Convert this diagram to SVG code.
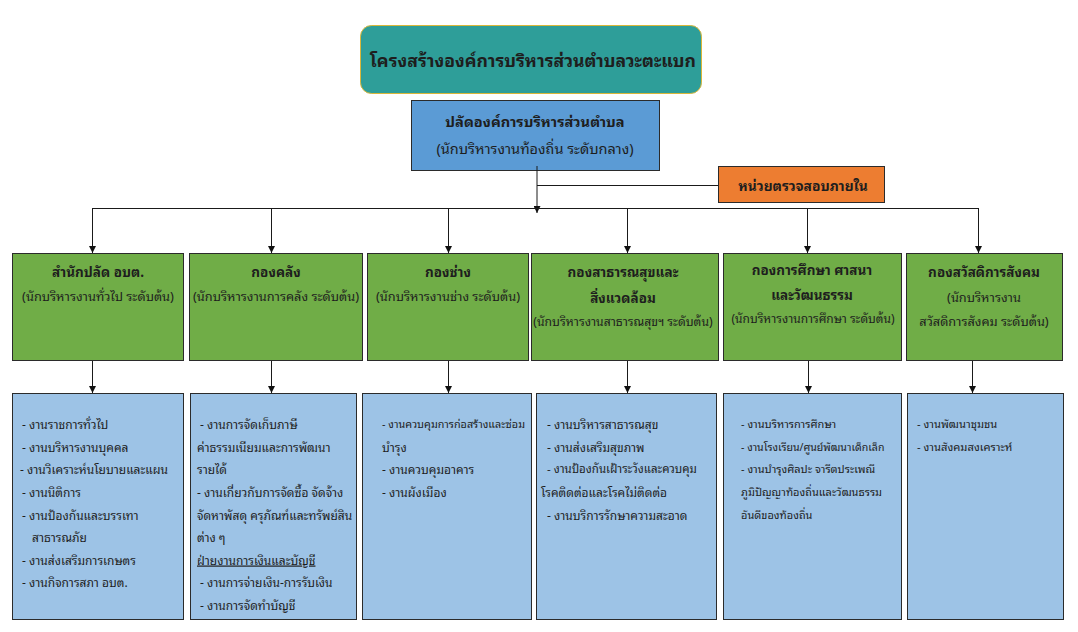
<svg xmlns="http://www.w3.org/2000/svg" width="1078" height="632" viewBox="0 0 1078 632">
<style>
text{font-family:"Noto Sans Thai Looped","Noto Sans Thai","Tahoma","Noto Sans","DejaVu Sans",sans-serif;fill:#1e1e1e;dominant-baseline:central}
.t{font-size:17.6px;font-weight:bold;text-anchor:middle}
.h{font-size:13.5px;font-weight:bold;text-anchor:middle}
.s{font-size:12.8px;text-anchor:middle}
.l{font-size:12px}
.g{fill:#70AD47;stroke:#2b2b2b;stroke-width:1}
.b{fill:#9DC3E6;stroke:#2b2b2b;stroke-width:1}
.c{fill:none;stroke:#1a1a1a;stroke-width:1}
</style>
<defs>
<marker id="ah" viewBox="0 0 10 10" refX="10" refY="5" markerWidth="7" markerHeight="7" markerUnits="userSpaceOnUse" orient="auto"><path d="M0,0 L10,5 L0,10 z" fill="#111"/></marker>
</defs>
<rect width="1078" height="632" fill="#fff"/>
<g id="title"><rect x="360.5" y="25.5" width="341" height="68" rx="11" fill="#2E9E99" stroke="#D9B73A" stroke-width="1"/><text class="t" x="533" y="59">โครงสร้างองค์การบริหารส่วนตำบลวะตะแบก</text></g>
<g id="chief"><rect x="411.5" y="100.5" width="248" height="70" fill="#5B9BD5" stroke="#2b2b2b"/><text class="h" x="535" y="120" style="font-size:14.6px">ปลัดองค์การบริหารส่วนตำบล</text><text class="s" x="535" y="147" style="font-size:14.5px">(นักบริหารงานท้องถิ่น ระดับกลาง)</text></g>
<g id="audit"><rect x="718.5" y="166.5" width="166" height="36" fill="#ED7D31" stroke="#2b2b2b"/><text class="h" x="803" y="185" style="font-size:13.8px">หน่วยตรวจสอบภายใน</text></g>
<g id="connectors">
<path class="c" d="M537,166 V213" marker-end="url(#ah)"/>
<path class="c" d="M537,185.5 H718"/>
<path class="c" d="M92,208.5 H978.5"/>
<path class="c" d="M92.5,208 V253" marker-end="url(#ah)"/>
<path class="c" d="M271.5,208 V253" marker-end="url(#ah)"/>
<path class="c" d="M448.5,208 V253" marker-end="url(#ah)"/>
<path class="c" d="M627.5,208 V253" marker-end="url(#ah)"/>
<path class="c" d="M807.5,208 V253" marker-end="url(#ah)"/>
<path class="c" d="M978.5,208 V253" marker-end="url(#ah)"/>
<path class="c" d="M92.5,354 V393" marker-end="url(#ah)"/>
<path class="c" d="M271.5,354 V393" marker-end="url(#ah)"/>
<path class="c" d="M448.5,354 V393" marker-end="url(#ah)"/>
<path class="c" d="M627.5,354 V393" marker-end="url(#ah)"/>
<path class="c" d="M808.5,354 V393" marker-end="url(#ah)"/>
<path class="c" d="M972.5,354 V393" marker-end="url(#ah)"/>
</g>
<g id="d1"><rect class="g" x="12.5" y="253.5" width="171" height="107"/><text class="h" x="98" y="271">สำนักปลัด อบต.</text><text class="s" x="98" y="295">(นักบริหารงานทั่วไป ระดับต้น)</text></g>
<g id="d2"><rect class="g" x="189.5" y="253.5" width="173" height="107"/><text class="h" x="276" y="271">กองคลัง</text><text class="s" x="276" y="295">(นักบริหารงานการคลัง ระดับต้น)</text></g>
<g id="d3"><rect class="g" x="367.5" y="253.5" width="161" height="107"/><text class="h" x="448" y="271">กองช่าง</text><text class="s" x="448" y="295">(นักบริหารงานช่าง ระดับต้น)</text></g>
<g id="d4"><rect class="g" x="531.5" y="253.5" width="187" height="107"/><text class="h" x="623" y="271">กองสาธารณสุขและ</text><text class="h" x="623" y="297">สิ่งแวดล้อม</text><text class="s" x="623" y="320" style="font-size:12.2px">(นักบริหารงานสาธารณสุขฯ ระดับต้น)</text></g>
<g id="d5"><rect class="g" x="723.5" y="253.5" width="178" height="107"/><text class="h" x="812" y="269">กองการศึกษา ศาสนา</text><text class="h" x="812" y="294">และวัฒนธรรม</text><text class="s" x="813" y="317" style="font-size:12px">(นักบริหารงานการศึกษา ระดับต้น)</text></g>
<g id="d6"><rect class="g" x="906.5" y="253.5" width="156" height="107"/><text class="h" x="984" y="271">กองสวัสดิการสังคม</text><text class="s" x="984" y="296">(นักบริหารงาน</text><text class="s" x="984" y="320">สวัสดิการสังคม ระดับต้น)</text></g>
<g id="w1"><rect class="b" x="12.5" y="393.5" width="171" height="226"/>
<text class="l" x="22" y="423">- งานราชการทั่วไป</text>
<text class="l" x="22" y="446">- งานบริหารงานบุคคล</text>
<text class="l" x="20" y="468">- งานวิเคราะห์นโยบายและแผน</text>
<text class="l" x="22" y="491">- งานนิติการ</text>
<text class="l" x="22" y="514">- งานป้องกันและบรรเทา</text>
<text class="l" x="32" y="536">สาธารณภัย</text>
<text class="l" x="22" y="559">- งานส่งเสริมการเกษตร</text>
<text class="l" x="22" y="581">- งานกิจการสภา อบต.</text></g>
<g id="w2"><rect class="b" x="190.5" y="393.5" width="166" height="226"/>
<text class="l" x="200" y="423">- งานการจัดเก็บภาษี</text>
<text class="l" x="197" y="446">ค่าธรรมเนียมและการพัฒนา</text>
<text class="l" x="197" y="468">รายได้</text>
<text class="l" x="197" y="491">- งานเกี่ยวกับการจัดซื้อ จัดจ้าง</text>
<text class="l" x="197" y="514">จัดหาพัสดุ ครุภัณฑ์และทรัพย์สิน</text>
<text class="l" x="197" y="536">ต่าง ๆ</text>
<text class="l" x="197" y="559" text-decoration="underline">ฝ่ายงานการเงินและบัญชี</text>
<text class="l" x="200" y="581">- งานการจ่ายเงิน-การรับเงิน</text>
<text class="l" x="200" y="604">- งานการจัดทำบัญชี</text></g>
<g id="w3"><rect class="b" x="362.5" y="393.5" width="169" height="226"/>
<text class="l" x="382" y="423" style="font-size:10.8px">- งานควบคุมการก่อสร้างและซ่อม</text>
<text class="l" x="382" y="446">บำรุง</text>
<text class="l" x="382" y="468">- งานควบคุมอาคาร</text>
<text class="l" x="382" y="491">- งานผังเมือง</text></g>
<g id="w4"><rect class="b" x="536.5" y="393.5" width="180" height="226"/>
<text class="l" x="547" y="423">- งานบริหารสาธารณสุข</text>
<text class="l" x="547" y="446">- งานส่งเสริมสุขภาพ</text>
<text class="l" x="547" y="468" style="font-size:11.5px">- งานป้องกันเฝ้าระวังและควบคุม</text>
<text class="l" x="541" y="491">โรคติดต่อและโรคไม่ติดต่อ</text>
<text class="l" x="547" y="514">- งานบริการรักษาความสะอาด</text></g>
<g id="w5" style="font-size:11px"><rect class="b" x="723.5" y="393.5" width="178" height="226"/>
<text x="741" y="423">- งานบริหารการศึกษา</text>
<text x="741" y="446" style="font-size:10.6px">- งานโรงเรียน/ศูนย์พัฒนาเด็กเล็ก</text>
<text x="741" y="468">- งานบำรุงศิลปะ จารีตประเพณี</text>
<text x="741" y="491">ภูมิปัญญาท้องถิ่นและวัฒนธรรม</text>
<text x="741" y="514">อันดีของท้องถิ่น</text></g>
<g id="w6" style="font-size:11.2px"><rect class="b" x="907.5" y="393.5" width="156" height="226"/>
<text x="917" y="423">- งานพัฒนาชุมชน</text>
<text x="917" y="446">- งานสังคมสงเคราะห์</text></g>
</svg>
